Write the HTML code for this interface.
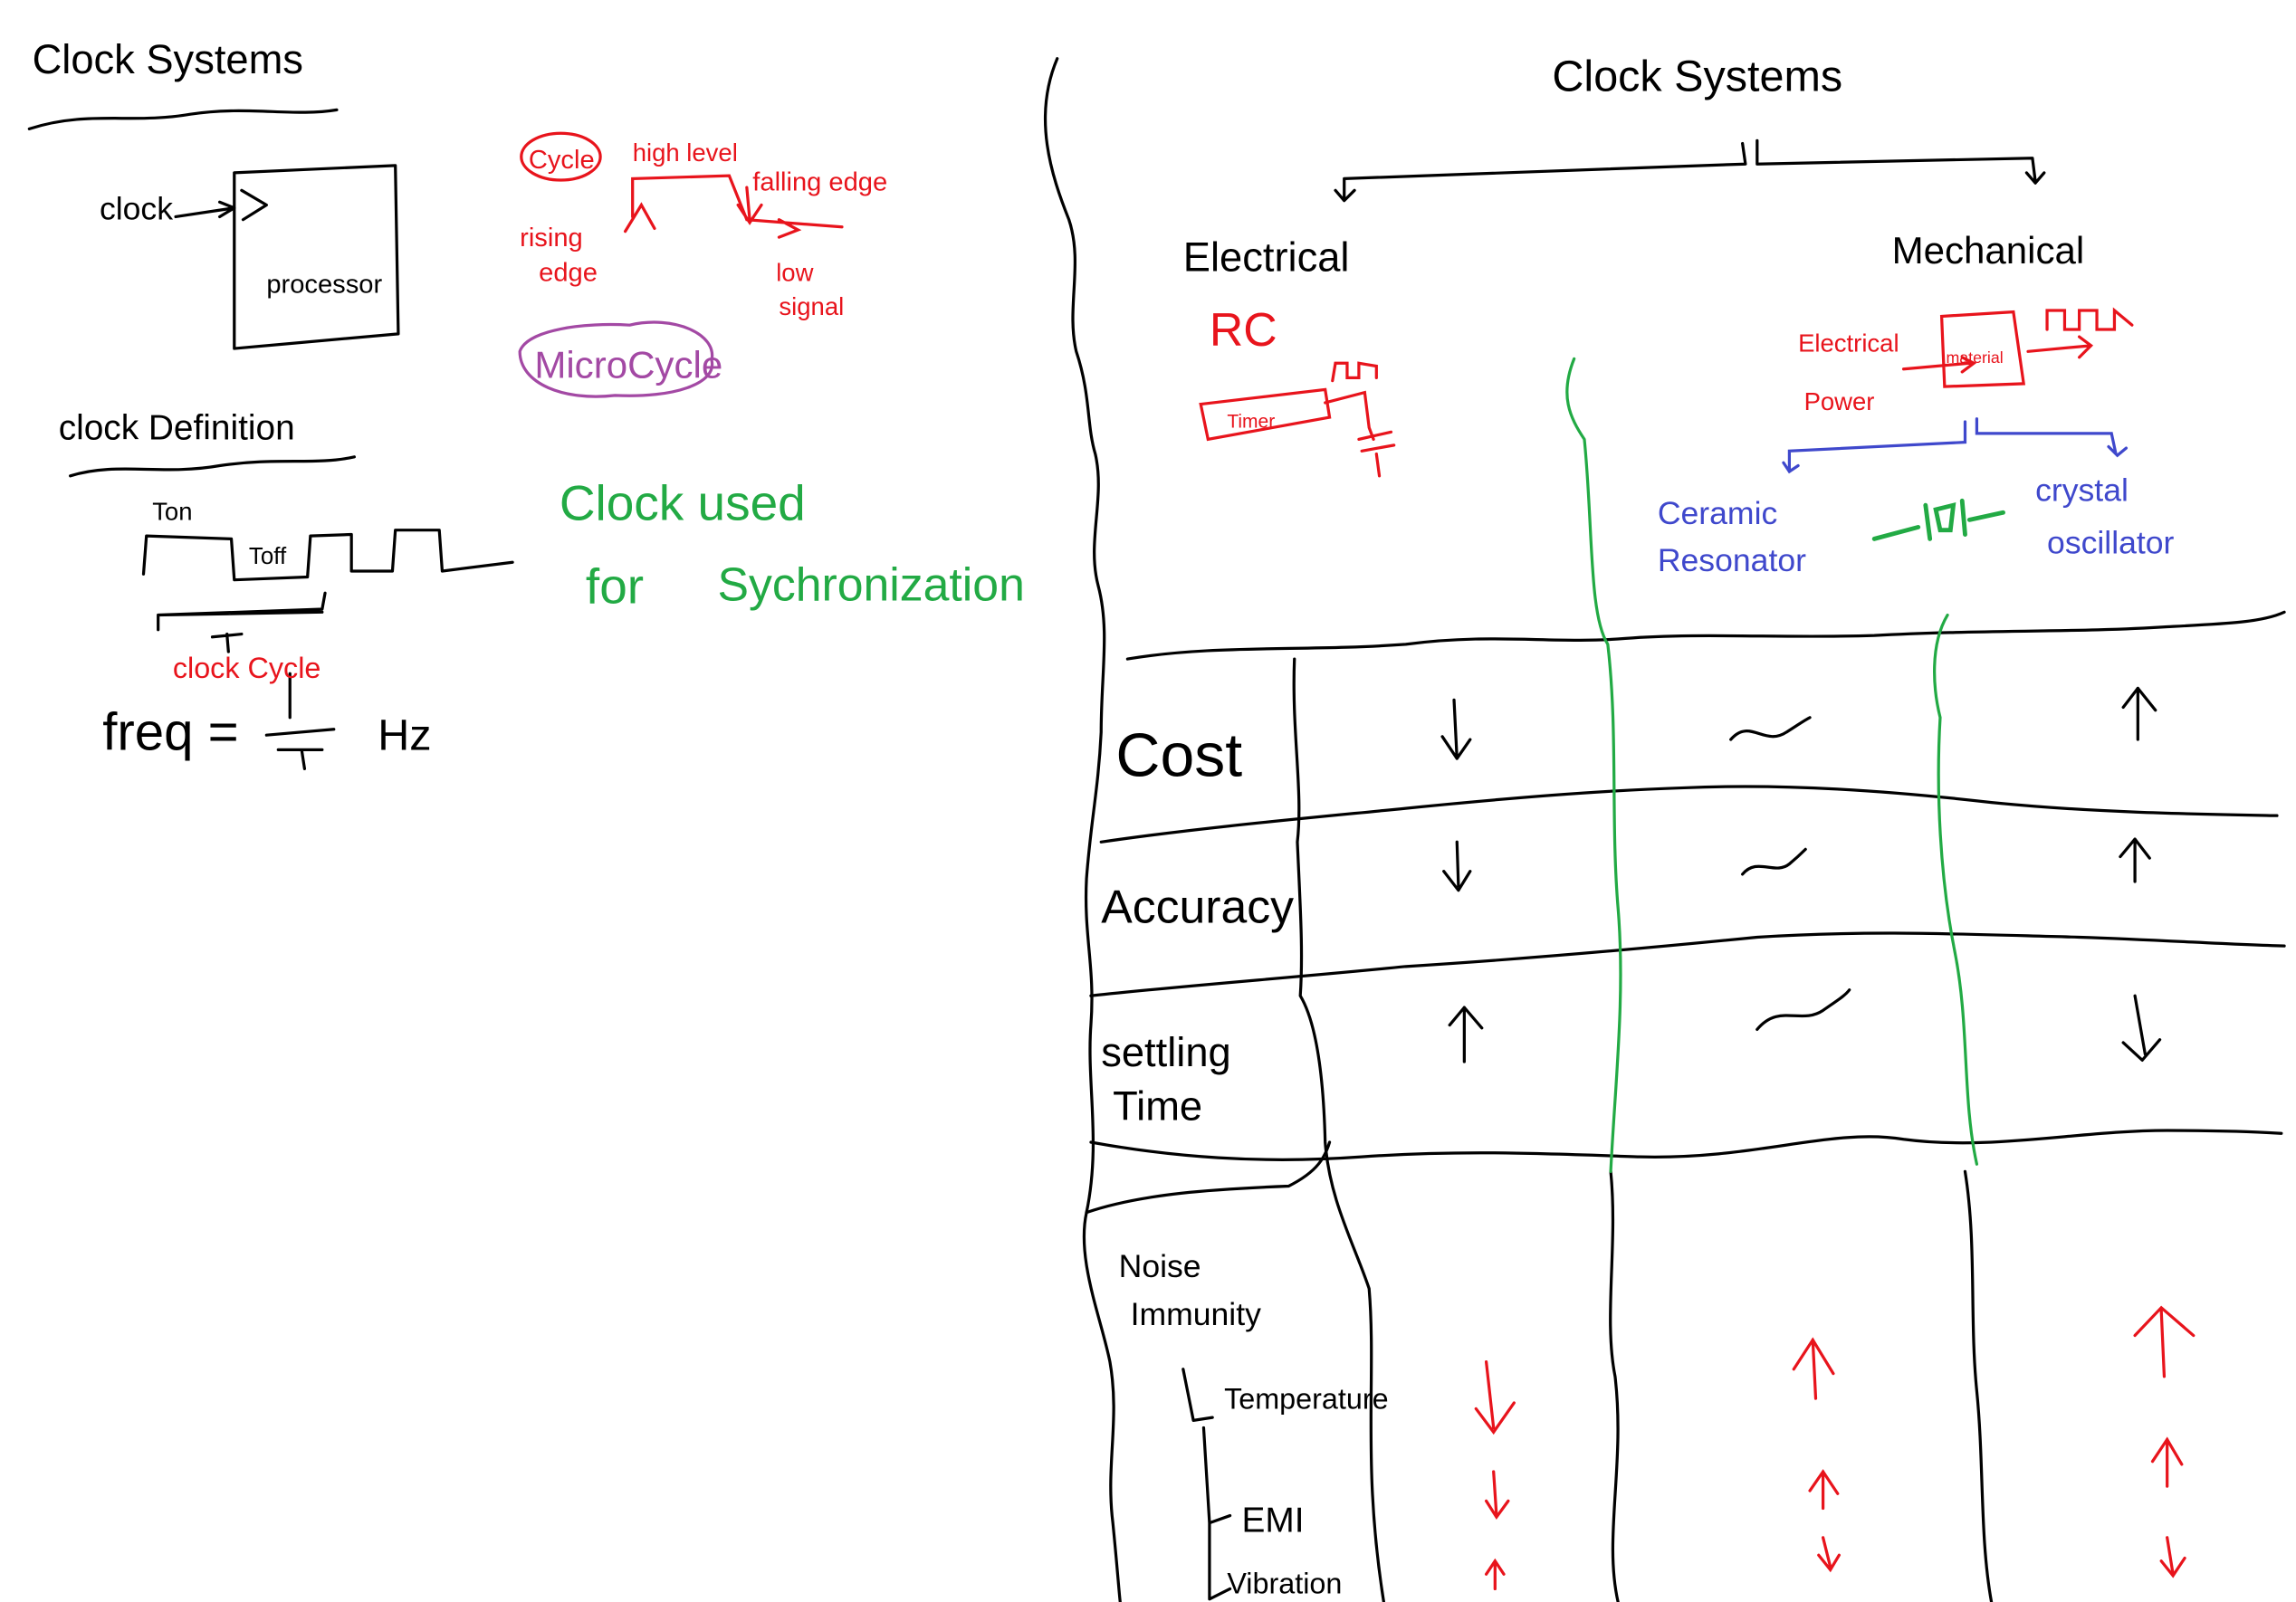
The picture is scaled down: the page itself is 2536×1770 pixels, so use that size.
<!DOCTYPE html>
<html><head><meta charset="utf-8"><style>
html,body{margin:0;padding:0;background:#fff;}
svg{display:block;}
text{font-family:"Liberation Sans",sans-serif;}
</style></head><body>
<svg width="2536" height="1770" viewBox="0 0 1568 1094" preserveAspectRatio="none" xmlns="http://www.w3.org/2000/svg">
<g fill="none" stroke="#000" stroke-width="2" stroke-linecap="round" stroke-linejoin="round">
<!-- left section -->
<path d="M20 88 C60 75 90 85 130 78 C170 72 200 80 230 75"/>
<path d="M48 325 C80 315 110 325 150 318 C190 312 215 318 242 312"/>
<path d="M160 118 L270 113 L272 228 L160 238 Z"/>
<path d="M165 130 L182 140 L166 150"/>
<path d="M120 148 L160 142 M150 138 L160 142 L150 148"/>
<path d="M98 392 L100 366 L158 368 L160 396 L210 394 L212 366 L240 365 L240 390 L268 390 L270 362 L300 362 L302 390 L350 384"/>
<path d="M108 430 L108 420 L220 416 L222 405 M108 420 L220 418"/>
<path d="M145 435 L165 433 M155 433 L156 445"/>
<path d="M198 460 L198 490 M182 502 L228 498 M190 512 L220 512 M206 512 L208 525"/>
<!-- right frame -->
<path d="M722 40 C705 80 718 120 730 150 C740 180 728 210 735 240 C745 270 742 290 748 310 C755 340 742 370 750 400 C758 430 752 460 752 500 C750 540 745 560 742 600 C740 640 748 660 745 700 C742 740 752 780 742 828 C735 860 752 900 758 930 C765 970 755 1000 760 1040 C763 1070 764 1085 765 1094"/>
<path d="M770 450 C830 440 890 445 960 440 C1020 432 1060 440 1110 436 C1160 432 1220 436 1280 434 C1350 430 1420 432 1480 428 C1520 426 1545 425 1560 418"/>
<path d="M752 575 C820 565 900 558 960 552 C1030 545 1090 540 1150 538 C1220 535 1290 540 1360 548 C1430 555 1500 556 1555 557"/>
<path d="M745 680 C820 672 880 668 960 660 C1040 655 1120 648 1200 640 C1280 635 1340 638 1420 640 C1480 642 1520 645 1560 646"/>
<path d="M745 780 C800 790 860 795 930 790 C1000 785 1060 788 1120 790 C1200 792 1250 770 1300 778 C1360 786 1420 772 1480 772 C1520 772 1540 773 1558 774"/>
<path d="M742 828 C780 815 830 812 880 810 C900 800 905 790 908 780"/>
<path d="M884 450 C882 500 890 540 886 575 C888 620 890 650 888 680 C900 700 904 740 905 780 C908 820 925 850 935 880 C940 940 930 1000 945 1094"/>
<path d="M1100 800 C1105 850 1095 900 1103 940 C1110 1000 1095 1050 1105 1094"/>
<path d="M1342 800 C1350 850 1345 900 1350 950 C1355 1000 1352 1050 1360 1094"/>
<path d="M1190 98 L1192 112 L918 122 L918 135 M1200 96 L1200 112 L1388 108 L1390 124 M912 130 L918 137 L925 130 M1384 118 L1390 125 L1396 118"/>
<!-- table symbols -->
<path d="M993 478 L995 518 M985 503 L995 518 L1004 505"/>
<path d="M1182 505 C1195 490 1205 510 1220 500 C1228 495 1232 492 1236 490"/>
<path d="M1460 505 L1460 470 M1450 483 L1460 470 L1472 485"/>
<path d="M995 575 L996 605 M986 595 L996 608 L1004 595"/>
<path d="M1190 597 C1200 585 1212 598 1222 590 C1228 585 1230 583 1233 580"/>
<path d="M1458 602 L1458 573 M1448 585 L1458 573 L1468 586"/>
<path d="M1000 725 L1000 688 M990 700 L1000 688 L1012 702"/>
<path d="M1200 703 C1215 685 1230 700 1245 690 C1255 683 1260 680 1263 676"/>
<path d="M1458 680 L1465 720 M1450 712 L1463 724 L1475 710"/>
<path d="M808 935 L815 970 L828 968 M822 975 L826 1040 L840 1035 M826 1040 L826 1092 L840 1085"/>
</g>
<g fill="none" stroke="#22aa44" stroke-width="2" stroke-linecap="round">
<path d="M1075 245 C1065 270 1072 285 1082 300 C1088 360 1085 420 1098 440 C1105 500 1100 560 1105 620 C1110 680 1103 740 1100 800"/>
<path d="M1330 420 C1318 440 1320 470 1325 490 C1322 540 1325 600 1335 650 C1345 700 1340 750 1350 795"/>
<path d="M1280 368 L1310 360 M1315 345 L1318 368 M1322 348 L1334 345 L1332 362 L1325 362 Z M1340 342 L1342 365 M1345 355 L1368 350" stroke-width="3"/>
</g>
<g fill="none" stroke="#e8141c" stroke-width="2" stroke-linecap="round">
<ellipse cx="383" cy="107" rx="27" ry="16"/>
<path d="M432 148 L432 122 L498 120 L510 150 L575 155 M510 128 L512 150 M427 158 L438 140 L447 156 M504 140 L512 152 L520 140 M532 150 L545 157 L532 162"/>
<path d="M820 276 L905 266 L908 285 L825 300 Z M905 275 L932 268 L935 292 L938 300 M928 300 L950 295 M930 308 L952 304 M940 310 L942 325 M910 260 L912 248 L920 248 L920 258 L928 258 L928 248 L940 250 L940 258"/>
<path d="M1326 216 L1375 213 L1382 262 L1328 264 Z M1300 252 L1345 248 M1340 244 L1348 248 L1340 254 M1385 240 L1428 236 M1420 230 L1428 236 L1420 244 M1398 225 L1398 212 L1410 212 L1410 225 L1420 225 L1420 212 L1432 212 L1432 225 L1444 225 L1444 212 L1456 222"/>
<path d="M1015 930 L1020 975 M1008 962 L1020 978 L1034 958 M1020 1005 L1022 1035 M1015 1025 L1022 1036 L1030 1025 M1021 1085 L1021 1068 M1015 1075 L1021 1066 L1027 1075"/>
<path d="M1240 955 L1238 915 M1225 935 L1238 915 L1252 938 M1245 1030 L1245 1005 M1236 1018 L1245 1005 L1255 1020 M1245 1050 L1250 1070 M1242 1062 L1250 1072 L1256 1062"/>
<path d="M1478 940 L1476 895 M1458 912 L1476 893 L1498 912 M1480 1015 L1480 983 M1470 998 L1480 983 L1490 1000 M1480 1050 L1484 1075 M1476 1066 L1484 1076 L1492 1064"/>
</g>
<g fill="none" stroke="#3f48cc" stroke-width="2" stroke-linecap="round">
<path d="M1342 288 L1342 302 L1222 308 L1222 322 M1350 286 L1350 296 L1442 296 L1445 310 M1218 316 L1222 322 L1228 318 M1440 305 L1446 311 L1452 306"/>
</g>
<path d="M355 240 C360 225 400 220 430 222 C460 215 490 228 486 246 C490 262 460 272 420 270 C385 274 355 262 355 240 Z" fill="none" stroke="#a349a4" stroke-width="2"/>
<g font-size="26" fill="#000">
<text x="22" y="50" font-size="28">Clock Systems</text>
<text x="68" y="150" font-size="22">clock</text>
<text x="182" y="200" font-size="18">processor</text>
<text x="40" y="300" font-size="24">clock Definition</text>
<text x="104" y="355" font-size="17">Ton</text>
<text x="170" y="385" font-size="16">Toff</text>
<text x="70" y="512" font-size="36">freq =</text>
<text x="258" y="512" font-size="30">Hz</text>
<text x="1060" y="62" font-size="30">Clock Systems</text>
<text x="808" y="185" font-size="28">Electrical</text>
<text x="1292" y="180" font-size="26">Mechanical</text>
<text x="762" y="530" font-size="42">Cost</text>
<text x="752" y="630" font-size="32">Accuracy</text>
<text x="752" y="728" font-size="28">settling</text>
<text x="760" y="765" font-size="28">Time</text>
<text x="764" y="872" font-size="22">Noise</text>
<text x="772" y="905" font-size="22">Immunity</text>
<text x="836" y="962" font-size="20">Temperature</text>
<text x="848" y="1046" font-size="24">EMI</text>
<text x="838" y="1088" font-size="20">Vibration</text>
</g>
<g fill="#e8141c">
<text x="361" y="115" font-size="18">Cycle</text>
<text x="432" y="110" font-size="17">high level</text>
<text x="514" y="130" font-size="18">falling edge</text>
<text x="355" y="168" font-size="18">rising</text>
<text x="368" y="192" font-size="18">edge</text>
<text x="530" y="192" font-size="17">low</text>
<text x="532" y="215" font-size="17">signal</text>
<text x="118" y="463" font-size="20">clock Cycle</text>
<text x="826" y="236" font-size="32">RC</text>
<text x="838" y="292" font-size="13">Timer</text>
<text x="1228" y="240" font-size="17">Electrical</text>
<text x="1232" y="280" font-size="17">Power</text>
<text x="1329" y="248" font-size="11">material</text>
</g>
<text x="365" y="258" font-size="26" fill="#a349a4">MicroCycle</text>
<g fill="#22aa44">
<text x="382" y="355" font-size="34">Clock used</text>
<text x="400" y="412" font-size="34">for</text>
<text x="490" y="410" font-size="32">Sychronization</text>
</g>
<g fill="#3f48cc" font-size="22">
<text x="1132" y="358">Ceramic</text>
<text x="1132" y="390">Resonator</text>
<text x="1390" y="342">crystal</text>
<text x="1398" y="378">oscillator</text>
</g>
</svg>
</body></html>
